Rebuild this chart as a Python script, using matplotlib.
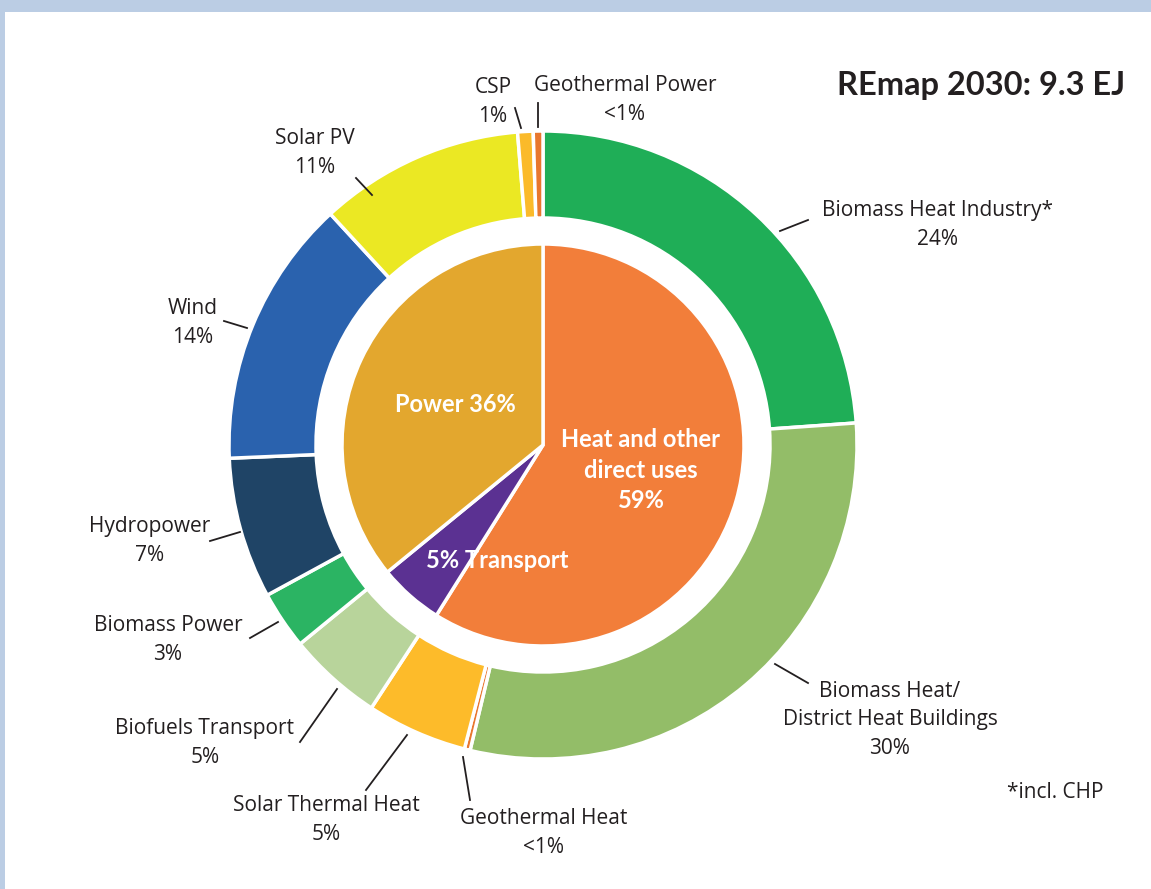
import matplotlib.pyplot as plt
from matplotlib.patches import Rectangle

# outer ring: technologies, clockwise from 12 o'clock (share of 9.3 EJ, %)
tech_names = ["Biomass Heat Industry*", "Biomass Heat/\nDistrict Heat Buildings", "Geothermal Heat",
              "Solar Thermal Heat", "Biofuels Transport", "Biomass Power", "Hydropower",
              "Wind", "Solar PV", "CSP", "Geothermal Power"]
tech_values = [24.0, 30.0, 0.3, 5.2, 4.9, 3.0, 7.3, 13.9, 10.6, 0.8, 0.5]
tech_labels = ["24%", "30%", "<1%", "5%", "5%", "3%", "7%", "14%", "11%", "1%", "<1%"]
tech_colors = ["#1FAE57", "#93BD68", "#E8772E", "#FDBB2A", "#B8D49B", "#2BB463",
               "#1F4466", "#2A62AE", "#EBE823", "#FBBA2A", "#E8772E"]

# inner pie: end-use sectors
sector_names = ["Heat and other\ndirect uses\n59%", "5% Transport", "Power 36%"]
sector_values = [58.9, 5.2, 35.9]
sector_colors = ["#F27E3A", "#5B3192", "#E3A72E"]

W, H = 1151, 889
CX, CY = 543, H - 445
R_OUT, R_RING_IN, R_PIE = 314, 227, 201
TXT = "#231F20"
BOLD_FONT = ['Lato', 'DejaVu Sans']

plt.rcParams['font.family'] = ['Open Sans', 'DejaVu Sans']

fig = plt.figure(figsize=(W / 100, H / 100), dpi=100)
ax = fig.add_axes([0, 0, 1, 1])

ax.pie(tech_values, colors=tech_colors, startangle=90, counterclock=False,
       center=(CX, CY), radius=R_OUT,
       wedgeprops=dict(width=R_OUT - R_RING_IN, edgecolor="white", linewidth=2.5))
ax.pie(sector_values, colors=sector_colors, startangle=90, counterclock=False,
       center=(CX, CY), radius=R_PIE,
       wedgeprops=dict(edgecolor="white", linewidth=2.5))

# label anchors (pixel, from top-left) and leader segments
label_pos = [(938, 225), (890, 720), (544, 833), (326, 820), (205, 743), (168, 640),
             (150, 541), (193, 323), (315, 153), (493, 102), (625, 100)]
leaders = [((780, 231), (808, 220)), ((775, 664), (808, 683)), ((463, 757), (470, 800)),
           ((407, 735), (366, 790)), ((337, 689), (300, 742)), ((278, 622), (250, 638)),
           ((240, 532), (210, 541)), ((247, 328), (224, 321)), ((372, 195), (356, 178)),
           ((521, 128), (515, 108)), ((538, 127), (538, 103))]

for name, lab, (lx, ly), (p0, p1) in zip(tech_names, tech_labels, label_pos, leaders):
    ax.text(lx, H - ly, f"{name}\n{lab}", ha="center", va="center", fontsize=15,
            color=TXT, linespacing=1.45)
    ax.plot([p0[0], p1[0]], [H - p0[1], H - p1[1]], color=TXT, lw=1.3)

sector_pos = [(641, 470), (497, 561), (455, 405)]
for name, (sx, sy) in zip(sector_names, sector_pos):
    ax.text(sx, H - sy, name, ha="center", va="center", fontsize=17, fontweight="bold",
            family=BOLD_FONT, color="white", linespacing=1.4)

ax.text(1125, H - 86, "REmap 2030: 9.3 EJ", ha="right", va="center", fontsize=23.5,
        fontweight="bold", family=BOLD_FONT, color=TXT)
ax.text(1055, H - 793, "*incl. CHP", ha="center", va="center", fontsize=15, color=TXT)

# light blue frame along the top and left edges
ax.add_patch(Rectangle((0, H - 12), W, 12, color="#BBCDE4", lw=0))
ax.add_patch(Rectangle((0, 0), 5, H, color="#BBCDE4", lw=0))

ax.set_xlim(0, W)
ax.set_ylim(0, H)
ax.set_aspect("equal")
ax.axis("off")

fig.savefig("out.png", dpi=100)
